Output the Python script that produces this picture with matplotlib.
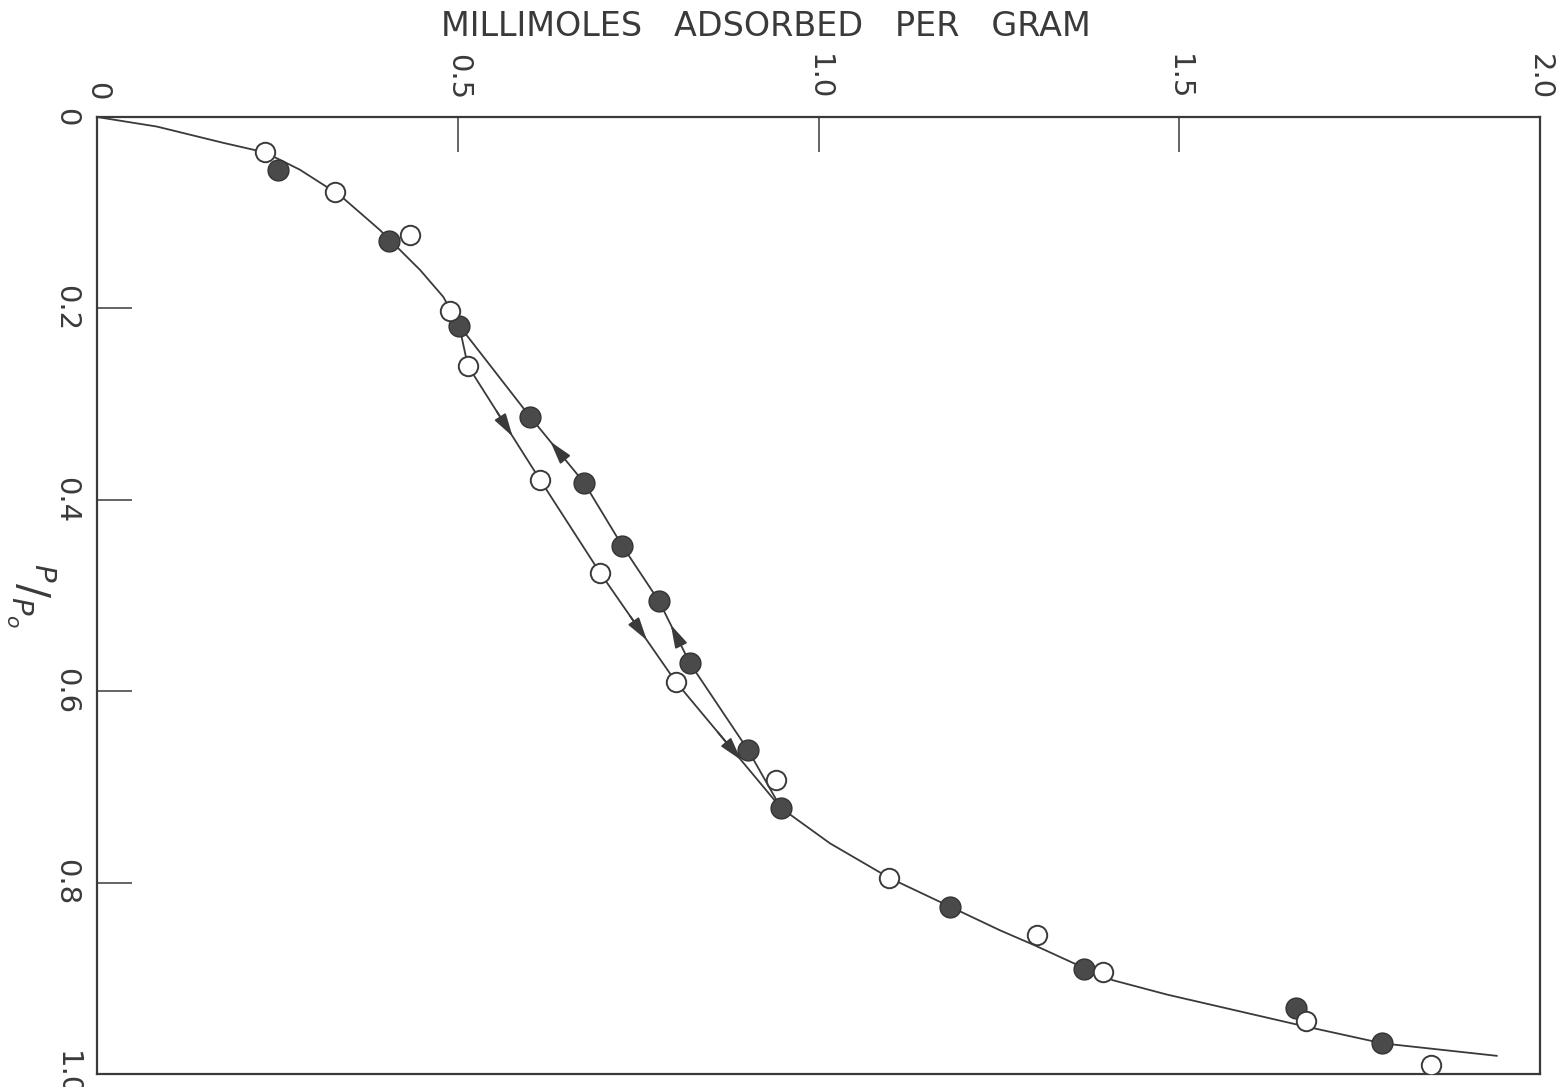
import matplotlib
matplotlib.use("Agg")
import matplotlib.pyplot as plt

# open circles (adsorption) - millimoles / g vs P/P0
open_x = [0.233, 0.330, 0.434, 0.489, 0.514, 0.614, 0.697, 0.802, 0.941, 1.098, 1.303, 1.394, 1.676, 1.849]
open_p = [0.037, 0.078, 0.123, 0.203, 0.260, 0.379, 0.476, 0.590, 0.693, 0.795, 0.855, 0.893, 0.945, 0.991]

# filled circles (desorption)
fill_x = [0.251, 0.405, 0.502, 0.600, 0.675, 0.728, 0.779, 0.822, 0.902, 0.948, 1.182, 1.368, 1.662, 1.781]
fill_p = [0.055, 0.130, 0.218, 0.313, 0.382, 0.448, 0.506, 0.571, 0.661, 0.722, 0.825, 0.890, 0.931, 0.968]

# drawn isotherm curve
curve_top_x = [0.0, 0.083, 0.175, 0.233, 0.281, 0.337, 0.392, 0.448, 0.480, 0.502]
curve_top_p = [0.0, 0.010, 0.027, 0.037, 0.055, 0.082, 0.118, 0.160, 0.188, 0.218]
curve_low_x = [0.948, 1.016, 1.098, 1.182, 1.252, 1.298, 1.353, 1.408, 1.483, 1.575, 1.667, 1.782, 1.940]
curve_low_p = [0.722, 0.759, 0.795, 0.825, 0.850, 0.865, 0.884, 0.902, 0.917, 0.933, 0.949, 0.968, 0.981]

# hysteresis loop branches
des_x = [0.502, 0.600, 0.675, 0.728, 0.779, 0.822, 0.902, 0.948]
des_p = [0.218, 0.313, 0.382, 0.448, 0.506, 0.571, 0.661, 0.722]
ads_x = [0.502, 0.514, 0.614, 0.697, 0.802, 0.948]
ads_p = [0.218, 0.260, 0.379, 0.476, 0.590, 0.722]
ads_arrows = [1, 3, 4]   # segment index, arrow points toward higher P/P0
des_arrows = [1, 4]      # arrow points toward lower P/P0

x_ticks = [0, 0.5, 1.0, 1.5, 2.0]
x_labels = ['0', '0.5', '1.0', '1.5', '2.0']
y_ticks = [0, 0.2, 0.4, 0.6, 0.8, 1.0]
y_labels = ['0', '0.2', '0.4', '0.6', '0.8', '1.0']

ink = '#3a3a3a'

fig = plt.figure(figsize=(15.63, 10.87), dpi=100)
ax = fig.add_axes([97 / 1563, 13 / 1087, 1443 / 1563, 957 / 1087])

for xs, ps in [(curve_top_x, curve_top_p), (curve_low_x, curve_low_p),
               (des_x, des_p), (ads_x, ads_p)]:
    ax.plot(xs, ps, color=ink, lw=1.3, zorder=2)


def arrow_on(xs, ps, i, forward):
    a = (xs[i], ps[i])
    b = (xs[i + 1], ps[i + 1])
    if not forward:
        a, b = b, a
    mx = a[0] + 0.62 * (b[0] - a[0])
    mp = a[1] + 0.62 * (b[1] - a[1])
    sx = a[0] + 0.4 * (b[0] - a[0])
    sp = a[1] + 0.4 * (b[1] - a[1])
    ax.annotate('', xy=(mx, mp), xytext=(sx, sp),
                arrowprops=dict(arrowstyle='-|>,head_length=1.4,head_width=0.4',
                                color=ink, lw=1.3, shrinkA=0, shrinkB=0), zorder=3)


for i in ads_arrows:
    arrow_on(ads_x, ads_p, i, True)
for i in des_arrows:
    arrow_on(des_x, des_p, i, False)

ax.plot(fill_x, fill_p, 'o', ms=15, mfc='#4a4a4a', mec='#333333', mew=1, zorder=4)
ax.plot(open_x, open_p, 'o', ms=14, mfc='white', mec=ink, mew=1.4, zorder=5)

ax.set_xlim(0, 2.0)
ax.set_ylim(1.0, 0)
ax.xaxis.tick_top()
ax.set_xticks(x_ticks)
ax.set_xticklabels(x_labels, rotation=-90, fontsize=21, color=ink)
ax.set_yticks(y_ticks)
ax.set_yticklabels(y_labels, rotation=-90, fontsize=21, color=ink, va='center')
ax.tick_params(direction='in', length=25, width=1.1, color=ink, pad=12)
for s in ax.spines.values():
    s.set_linewidth(1.6)
    s.set_color(ink)

fig.text(766 / 1563, 1 - 27 / 1087, 'MILLIMOLES   ADSORBED   PER   GRAM',
         fontsize=24, color=ink, ha='center', va='center')
ax.set_ylabel(r'$^{P}/_{P_o}$', fontsize=30, rotation=-90, color=ink, labelpad=16,
              va='center')

fig.savefig('out.png', dpi=100)
